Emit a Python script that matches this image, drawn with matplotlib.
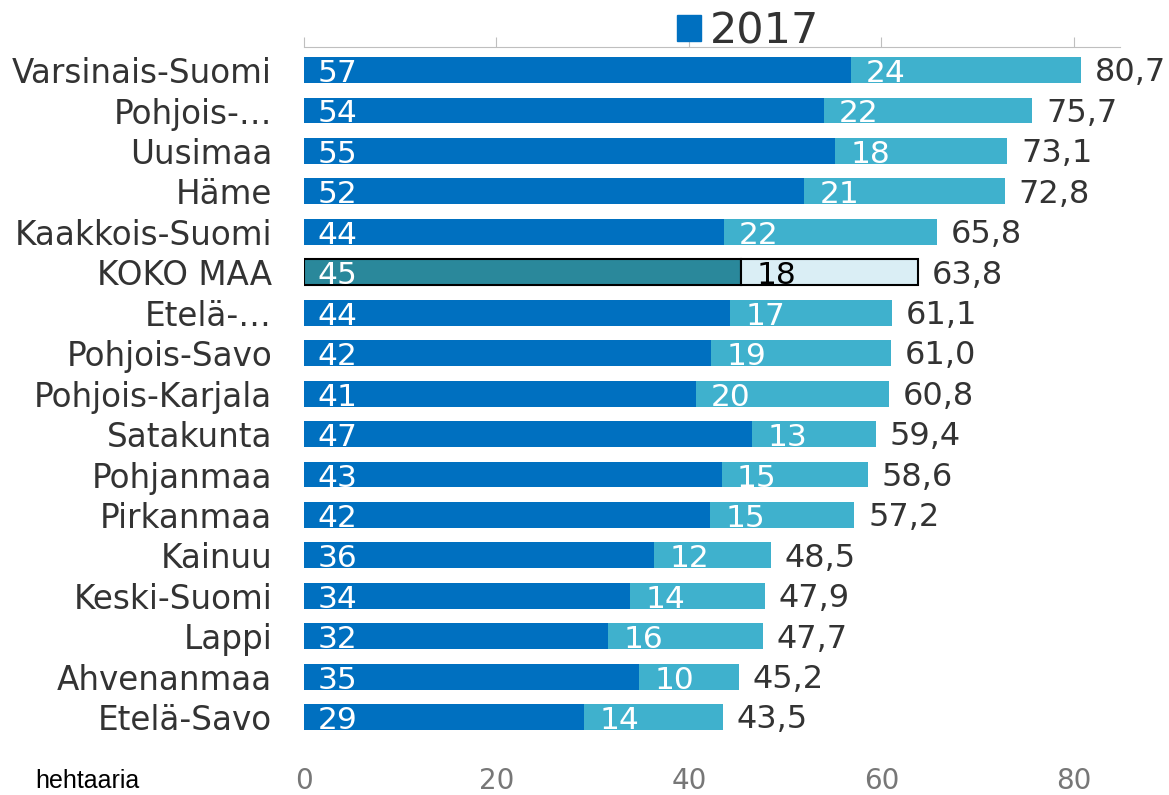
#!/usr/bin/env python3
"""Stacked horizontal bars per region (hehtaaria), 2017."""

import matplotlib
matplotlib.use("Agg")
import matplotlib.pyplot as plt
from matplotlib.patches import Patch
import numpy as np

REGIONS = [
    "Varsinais-Suomi", "Pohjois-…", "Uusimaa", "Häme", "Kaakkois-Suomi",
    "KOKO MAA", "Etelä-…", "Pohjois-Savo", "Pohjois-Karjala", "Satakunta",
    "Pohjanmaa", "Pirkanmaa", "Kainuu", "Keski-Suomi", "Lappi",
    "Ahvenanmaa", "Etelä-Savo",
]
PART_A = [56.8, 54.0, 55.2, 52.0, 43.6, 45.4, 44.3, 42.3, 40.7, 46.6,
          43.4, 42.2, 36.4, 33.9, 31.6, 34.8, 29.1]
PART_B = [23.9, 21.7, 17.9, 20.8, 22.2, 18.4, 16.8, 18.7, 20.1, 12.8,
          15.2, 15.0, 12.1, 14.0, 16.1, 10.4, 14.4]
TOTALS = [80.7, 75.7, 73.1, 72.8, 65.8, 63.8, 61.1, 61.0, 60.8, 59.4,
          58.6, 57.2, 48.5, 47.9, 47.7, 45.2, 43.5]
XTICKS = [0, 20, 40, 60, 80]
HIGHLIGHT = "KOKO MAA"

DARK = "#0070C0"
LIGHT = "#3FB1CD"
HL_DARK = "#2A889B"
HL_LIGHT = "#DAEEF5"

plt.rcParams["font.family"] = ["DejaVu Sans"]

fig = plt.figure(figsize=(11.69, 7.95), dpi=100)
ax = fig.add_axes([304 / 1169, 1 - 752 / 795, (1120 - 304) / 1169, (752 - 47) / 795])

y = np.arange(len(REGIONS))
a = np.array(PART_A)
b = np.array(PART_B)
h = 0.64

for i, name in enumerate(REGIONS):
    if name == HIGHLIGHT:
        ax.barh(i, a[i], h, color=HL_DARK, edgecolor="black", linewidth=1.5, zorder=3)
        ax.barh(i, b[i], h, left=a[i], color=HL_LIGHT, edgecolor="black",
                linewidth=1.5, zorder=3)
        col_b = "black"
    else:
        ax.barh(i, a[i], h, color=DARK, edgecolor="none", zorder=3)
        ax.barh(i, b[i], h, left=a[i], color=LIGHT, edgecolor="none", zorder=3)
        col_b = "white"

    ax.annotate(f"{a[i]:.0f}", (0, i), xytext=(10, -2.5), textcoords="offset points",
                ha="left", va="center", color="white", fontsize=22.5, zorder=4)
    ax.annotate(f"{b[i]:.0f}", (a[i], i), xytext=(11, -2.5), textcoords="offset points",
                ha="left", va="center", color=col_b, fontsize=22.5, zorder=4)
    ax.annotate(f"{TOTALS[i]:.1f}".replace(".", ","), (a[i] + b[i], i),
                xytext=(10, -2), textcoords="offset points",
                ha="left", va="center", color="#333333", fontsize=23, zorder=4)

ax.set_ylim(16.86, -0.57)
ax.set_xlim(0, 84.8)
ax.set_yticks(y)
ax.set_yticklabels(REGIONS, fontsize=23.5, color="#333333")
ax.tick_params(axis="y", length=0, pad=23)

ax.set_xticks(XTICKS)
ax.set_xticklabels([str(t) for t in XTICKS], fontsize=20, color="#777777")
ax.tick_params(axis="x", top=True, bottom=False, labeltop=False, labelbottom=True,
               direction="out", length=7, color="#BFBFBF", pad=4)

for s in ["left", "right", "bottom"]:
    ax.spines[s].set_visible(False)
ax.spines["top"].set_color("#BFBFBF")

# legend only shows the 2017 series
fig.legend(handles=[Patch(color=DARK)], labels=["2017"], loc="center",
           bbox_to_anchor=(748 / 1169, 1 - 31 / 795), frameon=False, fontsize=31,
           handlelength=0.55, handleheight=0.55, handletextpad=0.2,
           labelcolor="#333333")

fig.text(35 / 1169, 1 - 781 / 795, "hehtaaria", fontsize=18, family="Liberation Sans",
         va="center", ha="left", color="black")

fig.savefig("out.png", dpi=100)
plt.close(fig)
